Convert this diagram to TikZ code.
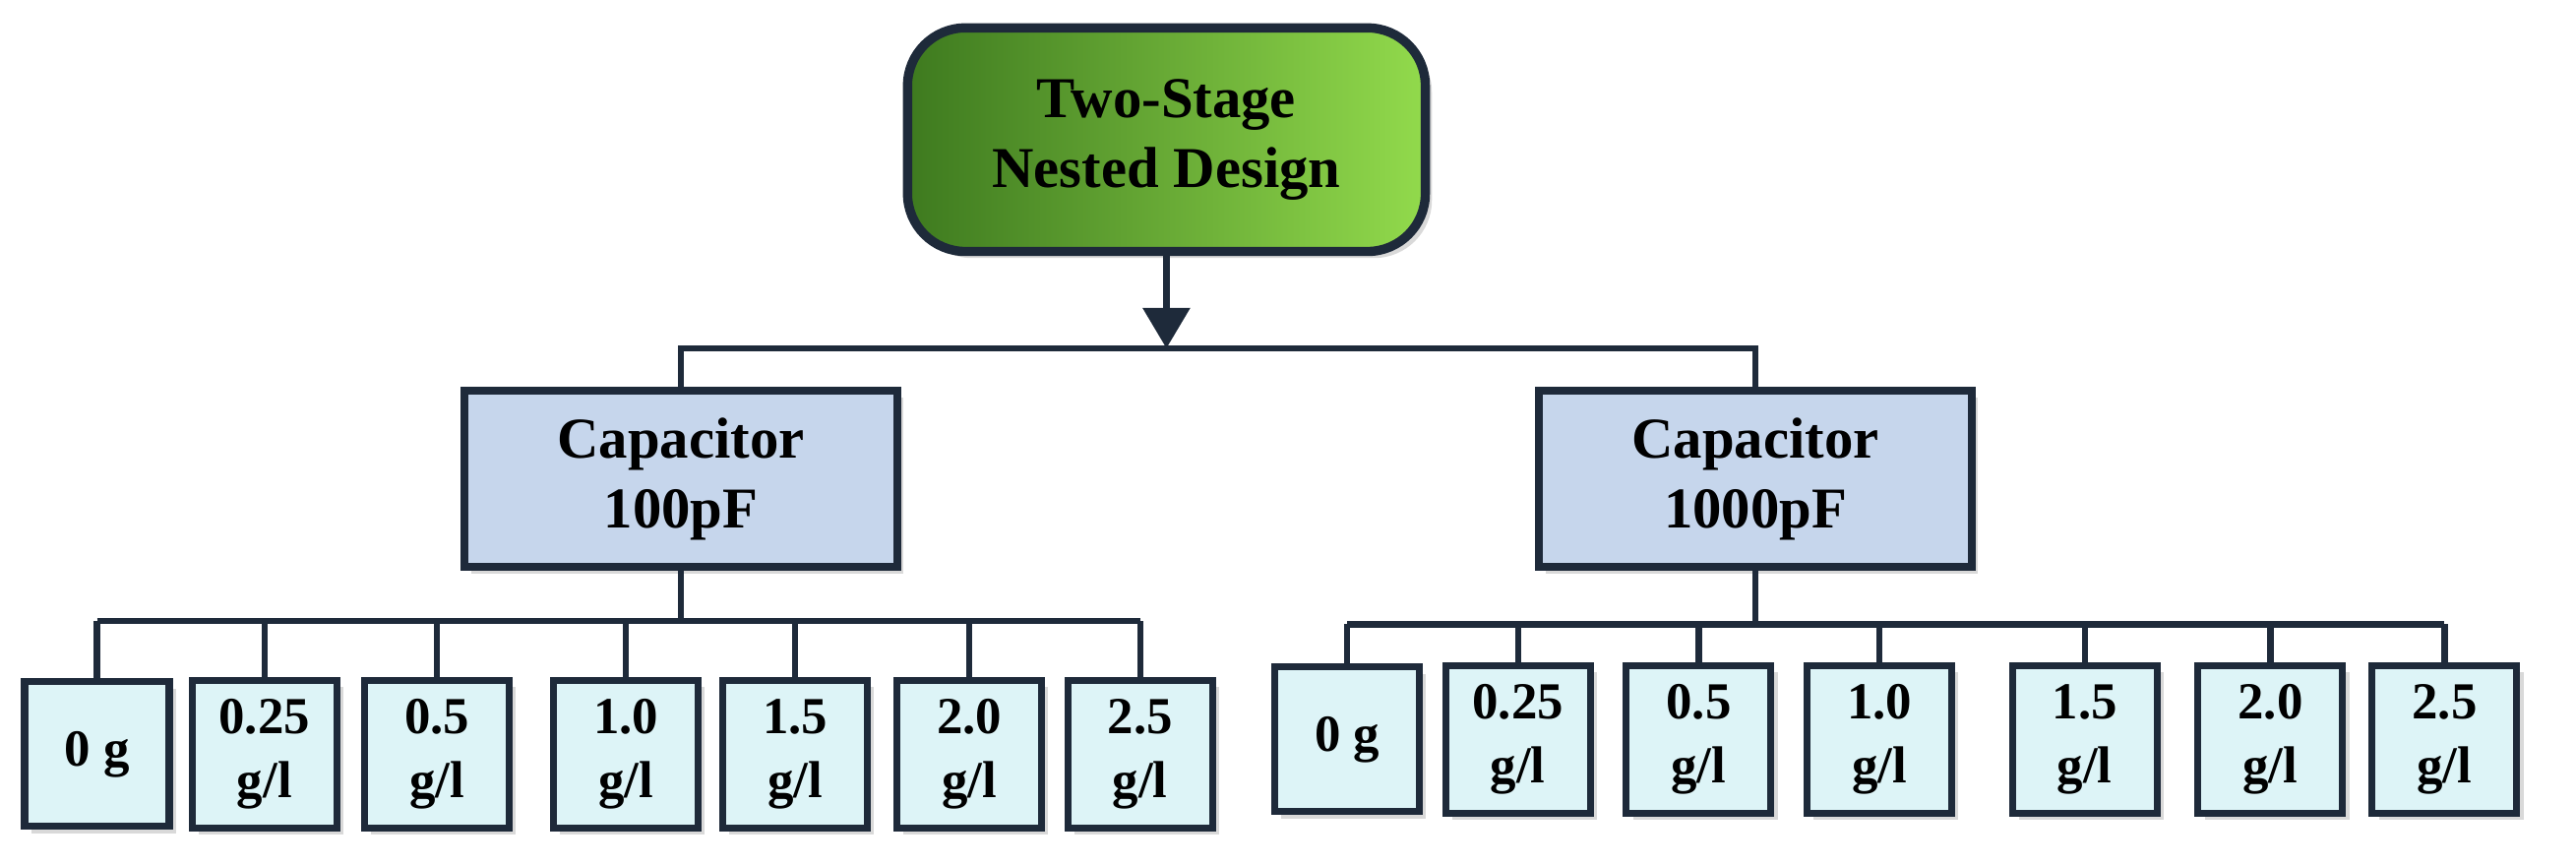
\documentclass[tikz,border=0pt]{standalone}
\usepackage{fontspec}
\setmainfont{Liberation Serif}
\usetikzlibrary{arrows.meta,shadows}
\definecolor{topdark}{HTML}{3E7A1F}
\definecolor{toplight}{HTML}{92DA4C}
\definecolor{capfill}{HTML}{C6D6EC}
\definecolor{leaffill}{HTML}{DDF4F7}
\definecolor{edge}{HTML}{1E2A3A}
\tikzset{
  topbox/.style={draw=edge, line width=1.6pt, rounded corners=10pt, left color=topdark, right color=toplight,
    minimum width=3.15cm, minimum height=1.36cm, align=center, font=\bfseries\fontsize{10}{12}\selectfont,
    drop shadow={shadow xshift=0.4mm, shadow yshift=-0.4mm, opacity=0.3}},
  capbox/.style={draw=edge, line width=1.4pt, fill=capfill, minimum width=2.63cm, minimum height=1.07cm,
    align=center, font=\bfseries\fontsize{10}{12}\selectfont,
    drop shadow={shadow xshift=0.4mm, shadow yshift=-0.4mm, opacity=0.3}},
  leafbox/.style={draw=edge, line width=1.2pt, fill=leaffill, minimum width=0.88cm, minimum height=0.88cm,
    align=center, font=\bfseries\fontsize{9}{11}\selectfont,
    drop shadow={shadow xshift=0.4mm, shadow yshift=-0.4mm, opacity=0.3}},
  link/.style={draw=edge, line width=1.1pt}
}
\begin{document}
\begin{tikzpicture}[x=0.01cm, y=-0.01cm]
  \useasboundingbox (0,0) rectangle (1568,527);
  % root
  \node[topbox] (root) at (710,85) {Two-Stage\\Nested Design};
  \node[capbox] (capA) at (414.5,291.5) {Capacitor\\100pF};
  \node[capbox] (capB) at (1068.5,291.5) {Capacitor\\1000pF};
  \coordinate (bus) at (710,212);
  \draw[link, -{Triangle[length=7pt,width=8pt]}] (root) -- (bus);
  \draw[link] (capA.north) |- (bus) -| (capB.north);
  % leaves
  \coordinate (barA) at (414.5,378);
  \coordinate (barB) at (1068.5,380);
  \foreach \i/\x/\t in {1/59/0 g/l, 2/161/{0.25\\g/l}, 3/266/{0.5\\g/l}, 4/381/{1.0\\g/l},
                        5/484/{1.5\\g/l}, 6/590/{2.0\\g/l}, 7/694/{2.5\\g/l}} {
    \node[leafbox] (a\i) at (\x,459) {\t};
    \draw[link] (a\i.north) -- (a\i.north |- barA);
  }
  \foreach \i/\x/\t in {1/820/0 g/l, 2/924/{0.25\\g/l}, 3/1034/{0.5\\g/l}, 4/1144/{1.0\\g/l},
                        5/1269/{1.5\\g/l}, 6/1382/{2.0\\g/l}, 7/1488/{2.5\\g/l}} {
    \node[leafbox] (b\i) at (\x,450) {\t};
    \draw[link] (b\i.north) -- (b\i.north |- barB);
  }
  \draw[link] (capA.south) -- (barA);
  \draw[link] (a1.north |- barA) -- (a7.north |- barA);
  \draw[link] (capB.south) -- (barB);
  \draw[link] (b1.north |- barB) -- (b7.north |- barB);
\end{tikzpicture}
\end{document}
